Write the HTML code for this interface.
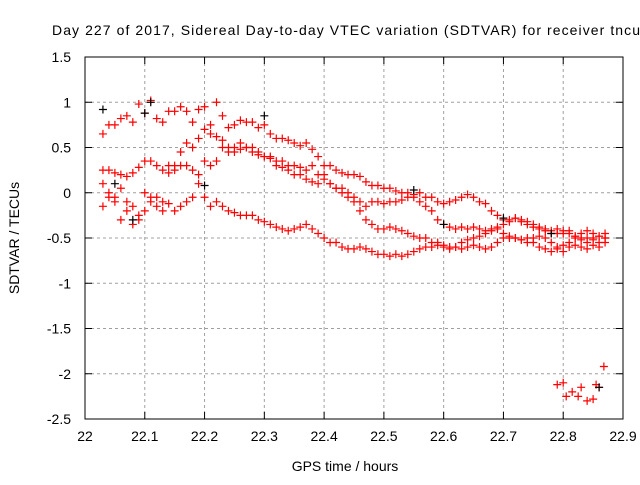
<!DOCTYPE html>
<html><head><meta charset="utf-8"><style>
body{margin:0;background:#fff}
svg text{font-family:"Liberation Sans",sans-serif;font-size:14px;fill:#000}
</style></head><body>
<svg id="chart" width="640" height="480" xmlns="http://www.w3.org/2000/svg">
<rect width="640" height="480" fill="#fff"/>
<text x="52" y="35" font-size="14" textLength="588" lengthAdjust="spacing">Day 227 of 2017, Sidereal Day-to-day VTEC variation (SDTVAR) for receiver tncu</text>
<g id="grid"></g>
<g id="axes"></g>
<g id="marks"></g>
<text x="345" y="471" text-anchor="middle">GPS time / hours</text>
<text transform="translate(19,238) rotate(-90)" text-anchor="middle">SDTVAR / TECUs</text>
</svg>
<script>
const xTicks=[22,22.1,22.2,22.3,22.4,22.5,22.6,22.7,22.8,22.9];
const xTickLabels=["22","22.1","22.2","22.3","22.4","22.5","22.6","22.7","22.8","22.9"];
const yTicks=[1.5,1,0.5,0,-0.5,-1,-1.5,-2,-2.5];
const yTickLabels=["1.5","1","0.5","0","-0.5","-1","-1.5","-2","-2.5"];
const trackStart=22.03, trackStep=0.01;
const trackA=[.65,.75,.75,.82,.85,.78,.98,.88,1.02,.82,.78,.9,.9,.95,.9,.78,.92,.95,.75,1.0,.85,.72,.75,.8,.78,.78,.72,.75,.65,.6,.6,.58,.55,.52,.55,.48,.4,.3,.3,.25,.22,.2,.2,.18,.12,.08,.08,.05,.05,.02,0,0,-.02,0,-.05,-.05,-.1,-.12,-.1,-.08,-.05,-.02,-.05,-.1,-.12,-.2,-.25,-.3,-.32,-.28,-.3,-.32,-.35,-.38,-.4,-.42,-.45,-.45,-.42,-.48,-.5,-.5,-.52,-.55,-.5];
const trackB=[.25,.25,.22,.2,.18,.22,.28,.35,.35,.3,.25,.22,.3,.45,.55,.5,.6,.7,.65,.62,.58,.5,.45,.48,.5,.45,.42,.4,.38,.3,.28,.25,.2,.2,.15,.12,.1,.15,.1,.05,.05,0,-.05,-.1,-.15,-.1,-.1,-.12,-.1,-.1,-.08,-.05,-.05,-.1,-.15,-.2,-.3,-.35,-.38,-.4,-.38,-.4,-.38,-.4,-.42,-.4,-.38,-.35,-.3,-.28,-.32,-.35,-.38,-.4,-.42,-.45,-.4,-.42,-.45,-.48,-.45,-.42,-.45,-.48,-.45];
const trackC=[.1,-.05,-.1,-.3,-.2,-.35,-.3,0,-.05,-.15,-.2,.3,.25,.3,.3,.25,.2,.35,.3,.35,.5,.45,.5,.55,.5,.5,.45,.4,.4,.35,.35,.3,.3,.28,.25,.3,.2,.2,.1,.05,0,-.05,-.1,-.2,-.3,-.35,-.4,-.4,-.38,-.4,-.42,-.45,-.48,-.5,-.5,-.55,-.55,-.58,-.6,-.6,-.55,-.52,-.5,-.48,-.45,-.42,-.4,-.45,-.5,-.5,-.52,-.55,-.5,-.48,-.5,-.55,-.6,-.58,-.55,-.5,-.52,-.55,-.5,-.48,-.5];
const trackD=[-.15,0,-.05,.05,-.1,-.15,-.25,-.2,-.1,-.05,-.1,-.12,-.2,-.15,-.1,-.05,.1,-.05,-.15,-.1,-.15,-.2,-.22,-.25,-.25,-.25,-.3,-.32,-.35,-.38,-.4,-.42,-.4,-.38,-.35,-.4,-.45,-.5,-.55,-.55,-.6,-.62,-.62,-.6,-.62,-.65,-.68,-.68,-.7,-.68,-.7,-.68,-.65,-.62,-.6,-.6,-.58,-.6,-.62,-.6,-.62,-.6,-.58,-.6,-.62,-.6,-.55,-.5,-.48,-.5,-.52,-.5,-.55,-.6,-.62,-.65,-.62,-.65,-.6,-.58,-.6,-.62,-.58,-.6,-.55];
const outlierX=[22.79,22.80,22.805,22.815,22.825,22.83,22.84,22.85,22.855,22.86,22.868];
const outlierY=[-2.12,-2.1,-2.25,-2.2,-2.25,-2.15,-2.3,-2.28,-2.12,-2.15,-1.92];
const blackX=[22.03,22.05,22.08,22.1,22.11,22.2,22.3,22.55,22.6,22.7,22.78,22.86];
const blackY=[0.92,0.1,-0.3,0.88,1.0,0.08,0.85,0.03,-0.35,-0.28,-0.45,-2.15];

const L=85,R=623,T=57,B=419;
const xs=v=>L+(v-22)/(0.9)*(R-L);
const ys=v=>T+(1.5-v)/4*(B-T);
const NS="http://www.w3.org/2000/svg";
function mk(tag,attrs,parent){const e=document.createElementNS(NS,tag);for(const k in attrs)e.setAttribute(k,attrs[k]);parent.appendChild(e);return e;}
const grid=document.getElementById('grid'),axes=document.getElementById('axes'),marks=document.getElementById('marks');
xTicks.forEach((t,i)=>{const x=xs(t);
 if(i>0&&i<xTicks.length-1){const g=mk('line',{x1:x,x2:x,y1:T,y2:B,stroke:'#a0a0a0','stroke-dasharray':'3,3'},grid);}
 mk('line',{x1:x,x2:x,y1:B,y2:B-7,stroke:'#000'},axes);mk('line',{x1:x,x2:x,y1:T,y2:T+7,stroke:'#000'},axes);
 const tx=mk('text',{x:x,y:B+22,'text-anchor':'middle'},axes);tx.textContent=xTickLabels[i];
 });
yTicks.forEach((t,i)=>{const y=ys(t);
 if(i>0&&i<yTicks.length-1){const g=mk('line',{x1:L,x2:R,y1:y,y2:y,stroke:'#a0a0a0','stroke-dasharray':'3,3'},grid);}
 mk('line',{x1:L,x2:L+7,y1:y,y2:y,stroke:'#000'},axes);mk('line',{x1:R,x2:R-7,y1:y,y2:y,stroke:'#000'},axes);
 const tx=mk('text',{x:L-14,y:y+5,'text-anchor':'end'},axes);tx.textContent=yTickLabels[i];
 });
const fr=mk('rect',{x:L,y:T,width:R-L,height:B-T,fill:'none',stroke:'#000'},axes);

function plus(xv,yv,color,name){const x=xs(xv),y=ys(yv);
 const p=mk('path',{d:`M${x-4} ${y}H${x+4}M${x} ${y-4}V${y+4}`,stroke:color,'stroke-width':1.2,fill:'none'},marks);
 
 }
[trackA,trackB,trackC,trackD].forEach((tr,ti)=>tr.forEach((v,i)=>plus(trackStart+i*trackStep,v,'#ff0000','point-track-'+(ti+1))));
outlierX.forEach((x,i)=>plus(x,outlierY[i],'#ff0000','point-outlier'));
blackX.forEach((x,i)=>plus(x,blackY[i],'#000000','point-black'));
</script>
</body></html>
